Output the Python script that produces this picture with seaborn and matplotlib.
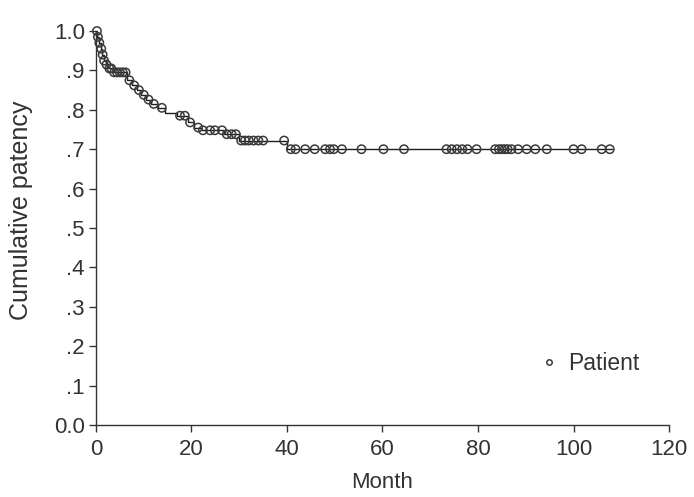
import numpy as np
import pandas as pd
import matplotlib
matplotlib.use("Agg")
import matplotlib.pyplot as plt
import seaborn as sns

# Kaplan-Meier style step curve (event times and survival after each step)
event_months = [0, 0.3, 0.6, 1.0, 1.3, 1.6, 2.0, 2.5, 3.5, 6.5, 7.5, 8.5, 9.5, 10.5,
                11.5, 13.0, 14.5, 17.0, 19.2, 20.5, 22.0, 26.8, 30.0, 40.0, 108.0]
survival = [1.0, 0.985, 0.97, 0.955, 0.94, 0.925, 0.915, 0.905, 0.895, 0.875, 0.862,
            0.85, 0.838, 0.826, 0.815, 0.805, 0.793, 0.785, 0.768, 0.755, 0.748,
            0.738, 0.722, 0.70, 0.70]

# Censored observations (months)
censor_months = [0.2, 0.4, 0.7, 1.1, 1.4, 1.7, 2.2, 2.8, 3.2, 3.8, 4.4, 5.0, 5.6, 6.2,
                 7.0, 8.0, 9.0, 10.0, 11.0, 12.1, 13.8, 17.6, 18.6, 19.7, 21.4, 22.4,
                 23.9, 24.9, 26.4, 27.4, 28.4, 29.3, 30.4, 31.2, 32.0, 33.0, 34.0,
                 35.0, 39.4, 40.8, 41.8, 43.8, 45.8, 48.0, 49.0, 49.8, 51.5, 55.6,
                 60.2, 64.5, 73.4, 74.5, 75.6, 76.7, 77.8, 79.7, 83.6, 84.4, 85.0,
                 85.6, 86.2, 87.0, 88.4, 90.2, 92.0, 94.4, 100.0, 101.7, 105.9, 107.6]

x_ticks = [0, 20, 40, 60, 80, 100, 120]
y_ticks = [0.0, 0.1, 0.2, 0.3, 0.4, 0.5, 0.6, 0.7, 0.8, 0.9, 1.0]
y_tick_labels = ["0.0", ".1", ".2", ".3", ".4", ".5", ".6", ".7", ".8", ".9", "1.0"]

sns.set_theme(style="ticks")
plt.rcParams["font.family"] = ["Liberation Sans", "DejaVu Sans"]

curve = pd.DataFrame({"Month": event_months, "Survival": survival})
ev = np.array(event_months)
sv = np.array(survival)
cens_y = [sv[np.searchsorted(ev, t, side="right") - 1] for t in censor_months]
cens = pd.DataFrame({"Month": censor_months, "Survival": cens_y, "Group": "Patient"})

fig = plt.figure(figsize=(6.94, 4.97), dpi=100)
ax = fig.add_axes([0.1383, 0.1449, 0.8257, 0.7927])

sns.lineplot(data=curve, x="Month", y="Survival", drawstyle="steps-post",
             color="#1e1e1e", linewidth=1.0, ax=ax, legend=False)
sns.scatterplot(data=cens, x="Month", y="Survival", hue="Group",
                palette={"Patient": "none"}, edgecolor="#3a3a3a", linewidth=1.1,
                s=36, marker="o", ax=ax, clip_on=False, zorder=3)

ax.set_xlim(0, 120)
ax.set_ylim(0, 1.0)
ax.set_xticks(x_ticks)
ax.set_yticks(y_ticks)
ax.set_yticklabels(y_tick_labels)
ax.tick_params(axis="both", labelsize=16, colors="#333333", length=5, width=1,
               direction="out")
ax.tick_params(axis="x", pad=5)
ax.tick_params(axis="y", pad=3)
for lab in ax.get_xticklabels() + ax.get_yticklabels():
    lab.set_color("#333333")
sns.despine(ax=ax)
for sp in ["left", "bottom"]:
    ax.spines[sp].set_color("#333333")
    ax.spines[sp].set_linewidth(1.0)
ax.set_xlabel("Month", fontsize=16, color="#333333", labelpad=9)
ax.set_ylabel("Cumulative patency", fontsize=18, color="#333333")
ax.yaxis.set_label_coords(-0.11, 0.545)

handles, labels = ax.get_legend_handles_labels()
leg = ax.legend(handles=handles, labels=labels, loc="lower right",
                bbox_to_anchor=(0.985, 0.075), frameon=False, fontsize=16.5,
                handlelength=1.0, handletextpad=0.35, markerscale=0.65)
for t in leg.get_texts():
    t.set_color("#333333")

fig.savefig("out.png", dpi=100)
